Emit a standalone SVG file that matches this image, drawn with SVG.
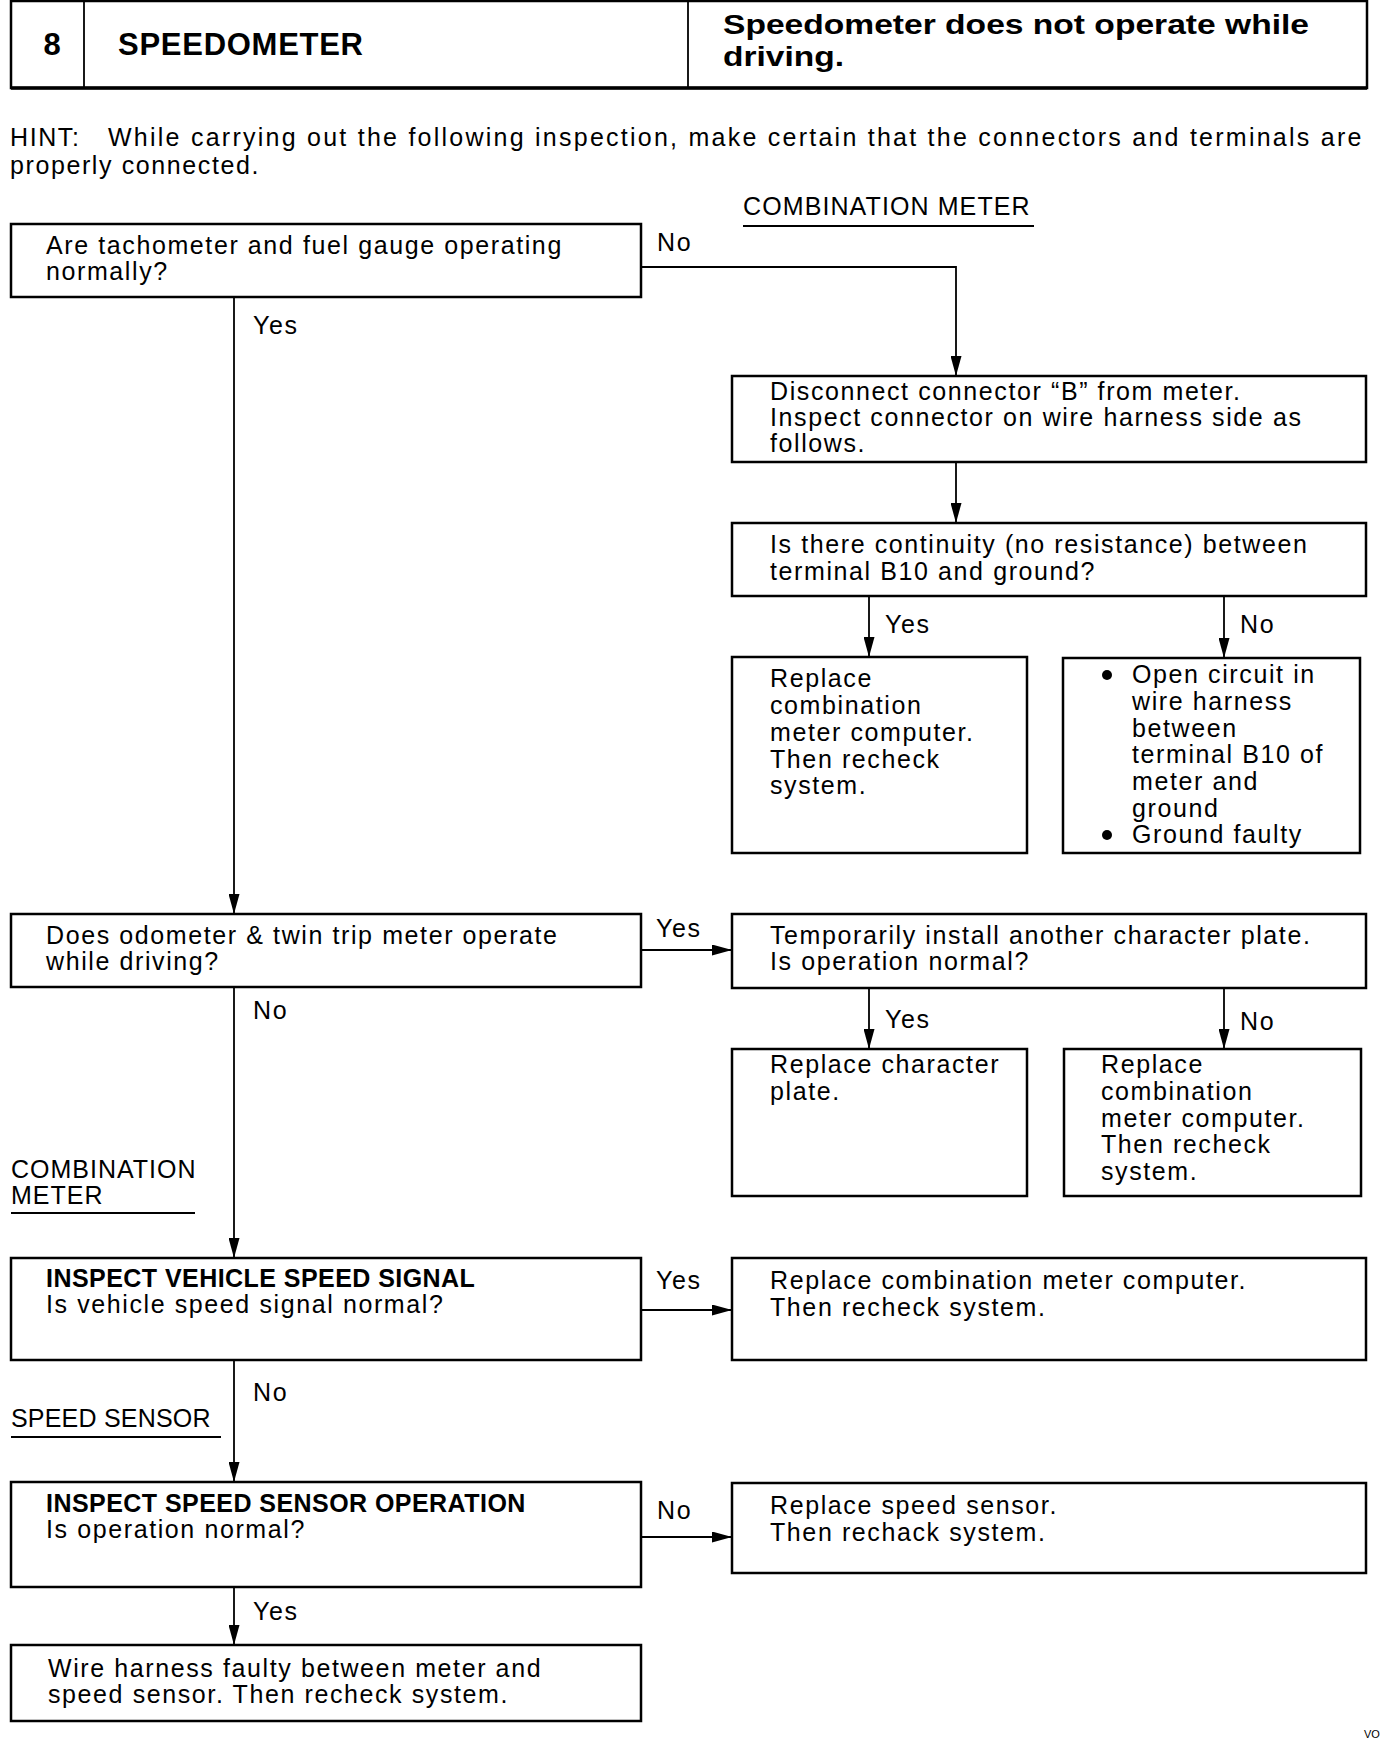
<svg xmlns="http://www.w3.org/2000/svg" width="1392" height="1738" viewBox="0 0 1392 1738">
<style>
text{font-family:"Liberation Sans",Arial,sans-serif;fill:#000}
.t{font-size:25px;letter-spacing:1.6px}
.b{font-size:25px;font-weight:bold;letter-spacing:0.45px}
.h{font-weight:bold}
.box{fill:#fff;stroke:#000;stroke-width:2.5}
.ln{fill:none;stroke:#000;stroke-width:1.8}
.ul{stroke:#000;stroke-width:2}
</style>
<defs>
<marker id="arr" markerUnits="userSpaceOnUse" viewBox="0 0 20 11" refX="20" refY="5.5" markerWidth="20" markerHeight="11" orient="auto">
<path d="M0,0 L20,5.5 L0,11 z" fill="#000"/>
</marker>
</defs>
<rect width="1392" height="1738" fill="#fff"/>

<g id="header">
<rect x="11" y="1" width="1356" height="87" class="box"/>
<line x1="11" y1="88" x2="1367" y2="88" stroke="#000" stroke-width="3.5"/>
<line x1="84" y1="1" x2="84" y2="88" class="ln"/>
<line x1="688" y1="1" x2="688" y2="88" class="ln"/>
<text x="52" y="55" class="h" font-size="31" text-anchor="middle">8</text>
<text x="118" y="55" class="h" font-size="31" textLength="245" lengthAdjust="spacing">SPEEDOMETER</text>
<text x="723" y="34" class="h" font-size="28.5" textLength="586" lengthAdjust="spacingAndGlyphs">Speedometer does not operate while</text>
<text x="723" y="66" class="h" font-size="28.5" textLength="121" lengthAdjust="spacingAndGlyphs">driving.</text>
</g>

<g id="hint">
<text x="10" y="146" class="t">HINT:</text>
<text x="108" y="146" class="t" textLength="1255" lengthAdjust="spacing">While carrying out the following inspection, make certain that the connectors and terminals are</text>
<text x="10" y="174" class="t">properly connected.</text>
</g>

<g id="labels">
<text x="743" y="215" class="t" style="letter-spacing:1.1px">COMBINATION METER</text>
<line x1="743" y1="226" x2="1034" y2="226" class="ul"/>
<text x="11" y="1178" class="t" style="letter-spacing:1px">COMBINATION</text>
<text x="11" y="1204" class="t" style="letter-spacing:1px">METER</text>
<line x1="11" y1="1213" x2="195" y2="1213" class="ul"/>
<text x="11" y="1427" class="t" style="letter-spacing:0.2px">SPEED SENSOR</text>
<line x1="11" y1="1437" x2="221" y2="1437" class="ul"/>
<text x="1364" y="1738" font-size="11">VO</text>
</g>

<g id="connectors">
<polyline points="641,267 956,267 956,376" class="ln" marker-end="url(#arr)"/>
<line x1="956" y1="462" x2="956" y2="523" class="ln" marker-end="url(#arr)"/>
<line x1="869" y1="596" x2="869" y2="657" class="ln" marker-end="url(#arr)"/>
<line x1="1224" y1="596" x2="1224" y2="658" class="ln" marker-end="url(#arr)"/>
<line x1="234" y1="297" x2="234" y2="914" class="ln" marker-end="url(#arr)"/>
<line x1="641" y1="950" x2="732" y2="950" class="ln" marker-end="url(#arr)"/>
<line x1="869" y1="988" x2="869" y2="1049" class="ln" marker-end="url(#arr)"/>
<line x1="1224" y1="988" x2="1224" y2="1049" class="ln" marker-end="url(#arr)"/>
<line x1="234" y1="987" x2="234" y2="1258" class="ln" marker-end="url(#arr)"/>
<line x1="641" y1="1310" x2="732" y2="1310" class="ln" marker-end="url(#arr)"/>
<line x1="234" y1="1360" x2="234" y2="1482" class="ln" marker-end="url(#arr)"/>
<line x1="641" y1="1537" x2="732" y2="1537" class="ln" marker-end="url(#arr)"/>
<line x1="234" y1="1587" x2="234" y2="1645" class="ln" marker-end="url(#arr)"/>
<text x="657" y="251" class="t">No</text>
<text x="253" y="334" class="t">Yes</text>
<text x="885" y="633" class="t">Yes</text>
<text x="1240" y="633" class="t">No</text>
<text x="656" y="937" class="t">Yes</text>
<text x="253" y="1019" class="t">No</text>
<text x="885" y="1028" class="t">Yes</text>
<text x="1240" y="1030" class="t">No</text>
<text x="656" y="1289" class="t">Yes</text>
<text x="253" y="1401" class="t">No</text>
<text x="657" y="1519" class="t">No</text>
<text x="253" y="1620" class="t">Yes</text>
</g>

<g id="n-tacho">
<rect x="11" y="224" width="630" height="73" class="box"/>
<text x="46" y="254" class="t">Are tachometer and fuel gauge operating</text>
<text x="46" y="280" class="t">normally?</text>
</g>

<g id="n-disconnect">
<rect x="732" y="376" width="634" height="86" class="box"/>
<text x="770" y="400" class="t">Disconnect connector “B” from meter.</text>
<text x="770" y="426" class="t">Inspect connector on wire harness side as</text>
<text x="770" y="452" class="t">follows.</text>
</g>

<g id="n-continuity">
<rect x="732" y="523" width="634" height="73" class="box"/>
<text x="770" y="553" class="t">Is there continuity (no resistance) between</text>
<text x="770" y="580" class="t">terminal B10 and ground?</text>
</g>

<g id="n-replace1">
<rect x="732" y="657" width="295" height="196" class="box"/>
<text x="770" y="687" class="t">Replace</text>
<text x="770" y="714" class="t">combination</text>
<text x="770" y="741" class="t">meter computer.</text>
<text x="770" y="768" class="t">Then recheck</text>
<text x="770" y="794" class="t">system.</text>
</g>

<g id="n-opencircuit">
<rect x="1063" y="658" width="297" height="195" class="box"/>
<circle cx="1107" cy="675" r="5"/>
<text x="1132" y="683" class="t">Open circuit in</text>
<text x="1132" y="710" class="t">wire harness</text>
<text x="1132" y="737" class="t">between</text>
<text x="1132" y="763" class="t">terminal B10 of</text>
<text x="1132" y="790" class="t">meter and</text>
<text x="1132" y="817" class="t">ground</text>
<circle cx="1107" cy="835" r="5"/>
<text x="1132" y="843" class="t">Ground faulty</text>
</g>

<g id="n-odometer">
<rect x="11" y="914" width="630" height="73" class="box"/>
<text x="46" y="944" class="t">Does odometer &amp; twin trip meter operate</text>
<text x="46" y="970" class="t">while driving?</text>
</g>

<g id="n-plate">
<rect x="732" y="914" width="634" height="74" class="box"/>
<text x="770" y="944" class="t">Temporarily install another character plate.</text>
<text x="770" y="970" class="t">Is operation normal?</text>
</g>

<g id="n-replaceplate">
<rect x="732" y="1049" width="295" height="147" class="box"/>
<text x="770" y="1073" class="t">Replace character</text>
<text x="770" y="1100" class="t">plate.</text>
</g>

<g id="n-replace2">
<rect x="1064" y="1049" width="297" height="147" class="box"/>
<text x="1101" y="1073" class="t">Replace</text>
<text x="1101" y="1100" class="t">combination</text>
<text x="1101" y="1127" class="t">meter computer.</text>
<text x="1101" y="1153" class="t">Then recheck</text>
<text x="1101" y="1180" class="t">system.</text>
</g>

<g id="n-vehicle">
<rect x="11" y="1258" width="630" height="102" class="box"/>
<text x="46" y="1287" class="b">INSPECT VEHICLE SPEED SIGNAL</text>
<text x="46" y="1313" class="t">Is vehicle speed signal normal?</text>
</g>

<g id="n-replace3">
<rect x="732" y="1258" width="634" height="102" class="box"/>
<text x="770" y="1289" class="t">Replace combination meter computer.</text>
<text x="770" y="1316" class="t">Then recheck system.</text>
</g>

<g id="n-sensor">
<rect x="11" y="1482" width="630" height="105" class="box"/>
<text x="46" y="1512" class="b">INSPECT SPEED SENSOR OPERATION</text>
<text x="46" y="1538" class="t">Is operation normal?</text>
</g>

<g id="n-replacesensor">
<rect x="732" y="1483" width="634" height="90" class="box"/>
<text x="770" y="1514" class="t">Replace speed sensor.</text>
<text x="770" y="1541" class="t">Then rechack system.</text>
</g>

<g id="n-wire">
<rect x="11" y="1645" width="630" height="76" class="box"/>
<text x="48" y="1677" class="t">Wire harness faulty between meter and</text>
<text x="48" y="1703" class="t">speed sensor. Then recheck system.</text>
</g>
</svg>
